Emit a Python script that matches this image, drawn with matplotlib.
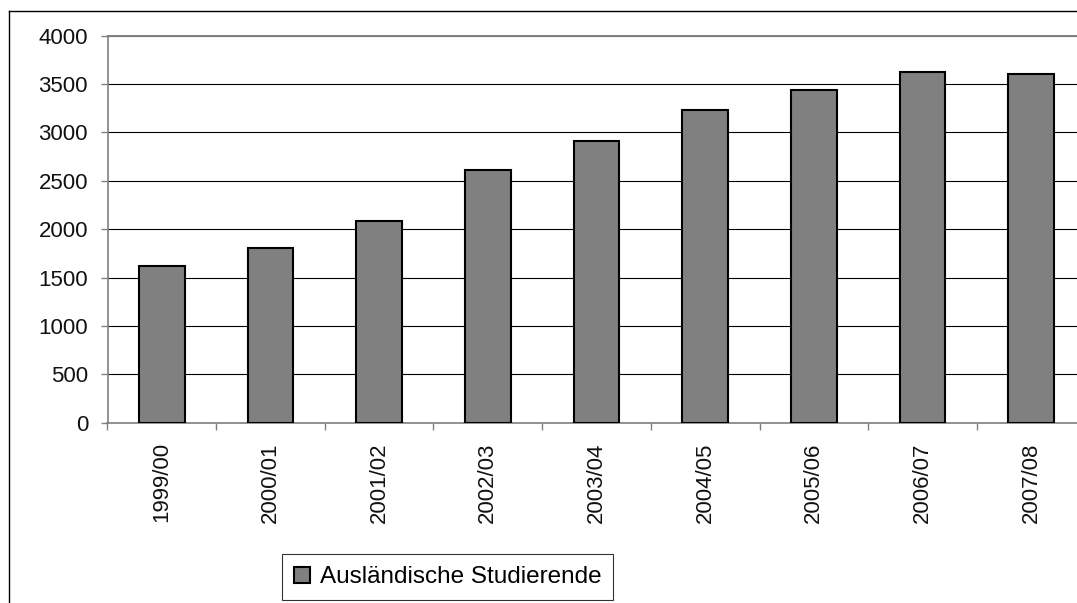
import numpy as np
import matplotlib
matplotlib.use("Agg")
import matplotlib.pyplot as plt
from matplotlib.lines import Line2D
from matplotlib.patches import Patch

# ── Data ──────────────────────────────────────────────────────────────────────
SEMESTERS = ["1999/00", "2000/01", "2001/02", "2002/03", "2003/04",
             "2004/05", "2005/06", "2006/07", "2007/08"]
STUDENTS  = [1622, 1805, 2087, 2615, 2912, 3233, 3443, 3629, 3605]
Y_TICKS   = [0, 500, 1000, 1500, 2000, 2500, 3000, 3500, 4000]
LABEL     = "Ausländische Studierende"

# ── Style ─────────────────────────────────────────────────────────────────────
plt.rcParams["font.family"] = ["Liberation Sans", "DejaVu Sans"]
FS      = 16
FS_LEG  = 17.5
C_BAR   = "#808080"
C_AXIS  = "#808080"

W, H = 1077, 603
fig = plt.figure(figsize=(W / 100, H / 100), dpi=100)
fig.patch.set_facecolor("white")

# plot area runs past the right edge of the image (cropped chart)
left, right = 107.5, 1085.5
top, bottom = 35.7, 422.7
ax = fig.add_axes([left / W, 1 - bottom / H, (right - left) / W, (bottom - top) / H])

x = np.arange(len(SEMESTERS))
ax.bar(x, STUDENTS, width=0.42, color=C_BAR, edgecolor="black",
       linewidth=1.5, zorder=3)

ax.set_xlim(-0.5, len(SEMESTERS) - 0.5)
ax.set_ylim(0, 4000)
ax.set_yticks(Y_TICKS)
ax.set_yticklabels([str(v) for v in Y_TICKS], fontsize=FS, color="#111111")
ax.yaxis.grid(True, color="black", linewidth=0.8, zorder=0)
ax.set_axisbelow(True)

ax.set_xticks(x)
ax.set_xticklabels(SEMESTERS, rotation=90, fontsize=FS, color="#111111",
                   va="top", ha="center")
ax.set_xticks(np.arange(len(SEMESTERS) + 1) - 0.5, minor=True)
ax.tick_params(axis="x", which="major", length=0, pad=14)
ax.tick_params(axis="x", which="minor", length=5, width=1, color=C_AXIS,
               direction="out")
ax.tick_params(axis="y", length=5, width=1, color=C_AXIS, pad=9)

for side in ("top", "right"):
    ax.spines[side].set_visible(False)
for side in ("left", "bottom"):
    ax.spines[side].set_color(C_AXIS)
    ax.spines[side].set_linewidth(1.2)

# top gridline drawn gray like the reference
ax.axhline(4000, color=C_AXIS, linewidth=1.4, zorder=1, clip_on=False)

# outer chart frame (partially cropped)
fig.add_artist(Line2D([9 / W, 9 / W], [0, 1 - 11 / H], color="black",
                      linewidth=1, transform=fig.transFigure))
fig.add_artist(Line2D([9 / W, 1], [1 - 11 / H, 1 - 11 / H], color="black",
                      linewidth=1, transform=fig.transFigure))

# legend
handle = Patch(facecolor=C_BAR, edgecolor="black", linewidth=1.5)
leg = fig.legend([handle], [LABEL], loc="upper left",
                 bbox_to_anchor=(282 / W, 1 - 554 / H),
                 fontsize=FS_LEG, frameon=True, fancybox=False,
                 handlelength=0.65, handleheight=0.65, handletextpad=0.4,
                 borderpad=0.5, borderaxespad=0)
leg.get_frame().set_edgecolor("black")
leg.get_frame().set_linewidth(0.8)

fig.savefig("out.png", dpi=100, facecolor="white")
